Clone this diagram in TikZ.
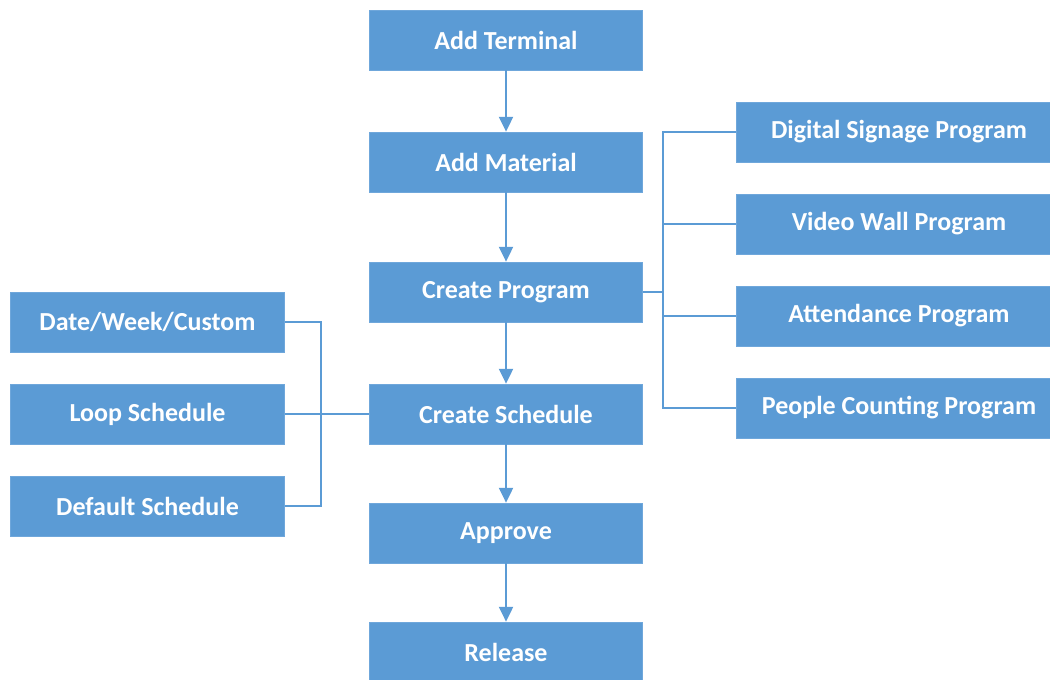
\documentclass[tikz,border=0pt]{standalone}
\usepackage{fontspec}
\setmainfont{Carlito}
\usetikzlibrary{arrows.meta,positioning}
\definecolor{boxblue}{HTML}{5B9BD5}
\definecolor{boxedge}{HTML}{6FA7DB}
\tikzset{
    every picture/.style={line join=miter},
    stepnode/.style={draw=boxedge,fill=boxblue,line width=0.6pt,
      minimum width=205pt,minimum height=45pt,inner sep=0pt,
      text=white,font=\bfseries\fontsize{19.5}{22}\selectfont,align=center},
    sidenode/.style={stepnode,minimum width=206pt},
    prognode/.style={stepnode,minimum width=260pt},
    flowarrow/.style={-{Triangle[length=11pt,width=10.5pt]},draw=boxblue,
      line width=1.5pt},
    branchline/.style={draw=boxblue,line width=1.3pt}
}
\newcommand{\progtext}[1]{\hspace*{-16.5pt}#1}
\begin{document}
\begin{tikzpicture}[x=0.75pt,y=-0.75pt]
  \useasboundingbox (0,0) rectangle (1050,680);
  \node[stepnode] (terminal) at (506,40) {Add Terminal};
  \node[stepnode] (material) at (506,162) {Add Material};
  \node[stepnode] (program) at (506,292) {Create Program};
  \node[stepnode] (schedule) at (506,414) {Create Schedule};
  \node[stepnode] (approve) at (506,533) {Approve};
  \node[stepnode] (release) at (506,652) {Release};
  \node[prognode] (signage) at (910,132) {\progtext{Digital Signage Program}};
  \node[prognode] (videowall) at (910,224) {\progtext{Video Wall Program}};
  \node[prognode] (attendance) at (910,316) {\progtext{Attendance Program}};
  \node[prognode] (counting) at (910,408) {\progtext{People Counting Program}};
  \node[sidenode] (datewk) at (147.5,322) {Date/Week/Custom};
  \node[sidenode] (loop) at (147.5,414) {Loop Schedule};
  \node[sidenode] (default) at (147.5,506) {Default Schedule};
  \coordinate (rbus) at (663,0);
  \coordinate (lbus) at (321,0);
  \draw[flowarrow] (terminal) -- (material);
  \draw[flowarrow] (material) -- (program);
  \draw[flowarrow] (program) -- (schedule);
  \draw[flowarrow] (schedule) -- (approve);
  \draw[flowarrow] (approve) -- (release);
  \draw[branchline] (signage.west) -- (signage.west -| rbus) |- (counting.west);
  \draw[branchline] (videowall.west) -- (videowall.west -| rbus);
  \draw[branchline] (attendance.west) -- (attendance.west -| rbus);
  \draw[branchline] (program.east) -- (program.east -| rbus);
  \draw[branchline] (datewk.east) -- (datewk.east -| lbus) |- (default.east);
  \draw[branchline] (loop.east) -- (schedule.west);
\end{tikzpicture}
\end{document}
